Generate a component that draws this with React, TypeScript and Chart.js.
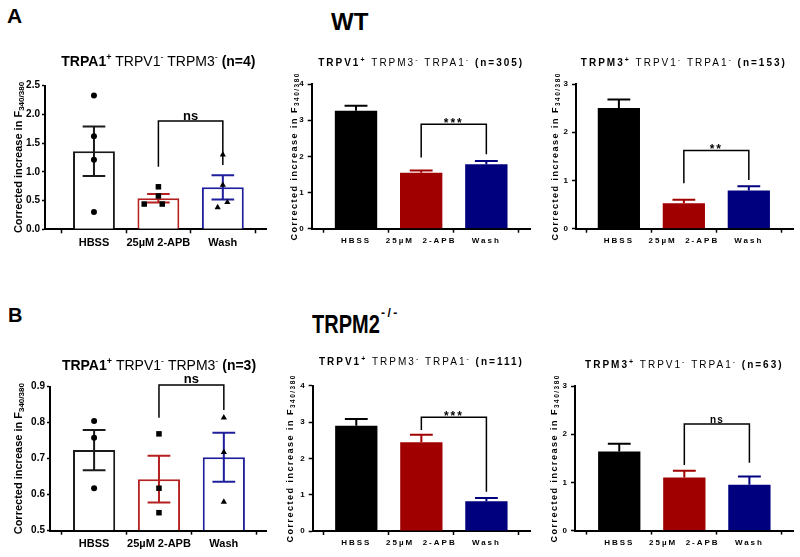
import React, { useEffect, useRef } from 'react';
import { Chart, registerables } from 'chart.js';
Chart.register(...registerables);

const FONT = '"Liberation Sans", Arial, Helvetica, sans-serif';

// ---------- data ----------
const categories = ['HBSS', '25µM 2-APB', 'Wash'];
const spacedCategories = ['HBSS', '25µM  2-APB', 'Wash'];

// A: WT, TRPA1+ (n=4)
const wtA1Means = [1.36, 0.54, 0.73];
const wtA1Sem = [0.43, 0.075, 0.21];
const wtA1HbssPoints = [2.33, 1.62, 1.21, 0.3];
const wtA1ApbPoints = [0.74, 0.58, 0.44, 0.44];
const wtA1WashPoints = [1.3, 0.77, 0.47, 0.38];
const wtA1Jitter = [[0, 0, 0, 0], [0, 0, -0.22, 0.06], [0, 0, 0.07, -0.08]];
const wtA1Bracket = [1.885, 1.09, 1.12];

// A: WT, TRPV1+ (n=305)
const wtV1Means = [3.26, 1.55, 1.78];
const wtV1Sem = [0.14, 0.06, 0.09];
const wtV1Bracket = [2.89, 1.97, 2.06];

// A: WT, TRPM3+ (n=153)
const wtM3Means = [2.5, 0.53, 0.79];
const wtM3Sem = [0.18, 0.07, 0.09];
const wtM3Bracket = [1.62, 0.94, 1.01];

// B: TRPM2-/-, TRPA1+ (n=3)
const koA1Means = [0.724, 0.643, 0.704];
const koA1Sem = [0.056, 0.065, 0.068];
const koA1HbssPoints = [0.805, 0.758, 0.618];
const koA1ApbPoints = [0.769, 0.618, 0.55];
const koA1WashPoints = [0.814, 0.718, 0.58];
const koA1Jitter = [[0, 0, 0], [0, 0, 0], [0, 0, 0]];
const koA1Bracket = [0.905, 0.814, 0.835];

// B: TRPM2-/-, TRPV1+ (n=111)
const koV1Means = [2.9, 2.44, 0.82];
const koV1Sem = [0.18, 0.21, 0.09];
const koV1Bracket = [3.13, 2.78, 1.08];

// B: TRPM2-/-, TRPM3+ (n=63)
const koM3Means = [1.64, 1.1, 0.95];
const koM3Sem = [0.16, 0.14, 0.17];
const koM3Bracket = [2.21, 1.36, 1.41];

// y axis ranges: [min, max, step, decimals]
const wtA1Axis = [0, 2.5, 0.5, 1];
const wtV1Axis = [0, 4, 1, 0];
const wtM3Axis = [0, 3, 1, 0];
const koA1Axis = [0.5, 0.9, 0.1, 1];
const koV1Axis = [0, 4, 1, 0];
const koM3Axis = [0, 3, 1, 0];

// titles: [text, kind] where b=bold, n=normal, sb=superscript bold, s=superscript
const titleA1_4 = [['TRPA1', 'b'], ['+', 'sb'], [' TRPV1', 'n'], ['-', 's'], [' TRPM3', 'n'], ['-', 's'], [' (n=4)', 'b']];
const titleV1_305 = [['TRPV1', 'b'], ['+', 'sb'], [' TRPM3', 'n'], ['-', 's'], [' TRPA1', 'n'], ['-', 's'], [' (n=305)', 'b']];
const titleM3_153 = [['TRPM3', 'b'], ['+', 'sb'], [' TRPV1', 'n'], ['-', 's'], [' TRPA1', 'n'], ['-', 's'], [' (n=153)', 'b']];
const titleA1_3 = [['TRPA1', 'b'], ['+', 'sb'], [' TRPV1', 'n'], ['-', 's'], [' TRPM3', 'n'], ['-', 's'], [' (n=3)', 'b']];
const titleV1_111 = [['TRPV1', 'b'], ['+', 'sb'], [' TRPM3', 'n'], ['-', 's'], [' TRPA1', 'n'], ['-', 's'], [' (n=111)', 'b']];
const titleM3_63 = [['TRPM3', 'b'], ['+', 'sb'], [' TRPV1', 'n'], ['-', 's'], [' TRPA1', 'n'], ['-', 's'], [' (n=63)', 'b']];
const yTitle = [['Corrected increase in F', 'b'], ['340/380', 'sub']];

const filledColors = ['#000000', '#A00000', '#00007F'];
const openColors = ['#1A1A1A', '#B52020', '#1F1F9C'];
const pointShapes = ['circle', 'rect', 'triangle'];
const pointRadii = [3, 3.9, 3.6];

// ---------- styles ----------
const openStyle = { tick: 10, tickLen: 3, xlab: 11, title: 14, sup: 9, ytitle: 11, sub: 8, spacing: 0, ytSpacing: 0, titleSpacing: 0, ns: 13, nsSpacing: 0, stars: 12, starSpacing: 1 };
const spacedStyle = { tick: 8, tickLen: 4, xlab: 8, title: 10, sup: 7, ytitle: 9, sub: 6.5, spacing: 2, ytSpacing: 1.5, titleSpacing: 2, ns: 10, nsSpacing: 1, stars: 12, starSpacing: 2 };

type Panel = {
  box: number[]; // canvas left, top, width, height (page)
  area: number[]; // chart area left, top, right, bottom (page)
  xRange: number[];
  axis: number[];
  means: number[];
  sem: number[];
  points?: number[][];
  jitter?: number[][];
  open: boolean;
  title: string[][];
  titleGap: number;
  yTitleX: number;
  bracket: number[];
  label: string;
  labels: string[];
};

const panels: Panel[] = [
  { box: [0, 40, 270, 218], area: [45, 85.7, 266, 229.3], xRange: [-0.76, 2.67], axis: wtA1Axis, means: wtA1Means, sem: wtA1Sem,
    points: [wtA1HbssPoints, wtA1ApbPoints, wtA1WashPoints], jitter: wtA1Jitter, open: true, title: titleA1_4, titleGap: 19.5, yTitleX: 21.5,
    bracket: wtA1Bracket, label: 'ns', labels: categories },
  { box: [270, 40, 270, 218], area: [311.7, 84, 530, 228.7], xRange: [-0.68, 2.67], axis: wtV1Axis, means: wtV1Means, sem: wtV1Sem,
    open: false, title: titleV1_305, titleGap: 18, yTitleX: 297, bracket: wtV1Bracket, label: '***', labels: spacedCategories },
  { box: [540, 40, 260, 218], area: [576, 84, 793, 228.7], xRange: [-0.66, 2.68], axis: wtM3Axis, means: wtM3Means, sem: wtM3Sem,
    open: false, title: titleM3_153, titleGap: 18, yTitleX: 558, bracket: wtM3Bracket, label: '**', labels: spacedCategories },
  { box: [0, 340, 270, 217], area: [50, 386.7, 266, 530.7], xRange: [-0.68, 2.65], axis: koA1Axis, means: koA1Means, sem: koA1Sem,
    points: [koA1HbssPoints, koA1ApbPoints, koA1WashPoints], jitter: koA1Jitter, open: true, title: titleA1_3, titleGap: 16.5, yTitleX: 21.5,
    bracket: koA1Bracket, label: 'ns', labels: categories },
  { box: [270, 340, 270, 217], area: [312.7, 385.7, 530, 531], xRange: [-0.67, 2.67], axis: koV1Axis, means: koV1Means, sem: koV1Sem,
    open: false, title: titleV1_111, titleGap: 20.5, yTitleX: 293, bracket: koV1Bracket, label: '***', labels: spacedCategories },
  { box: [540, 340, 260, 217], area: [575, 386, 793, 530.6], xRange: [-0.68, 2.67], axis: koM3Axis, means: koM3Means, sem: koM3Sem,
    open: false, title: titleM3_63, titleGap: 18, yTitleX: 557, bracket: koM3Bracket, label: 'ns', labels: spacedCategories },
];

function fontFor(kind: string, st: any, base: 'title' | 'ytitle') {
  const size = base === 'title' ? st.title : st.ytitle;
  if (kind === 'b') return `bold ${size}px ${FONT}`;
  if (kind === 'n') return `normal ${size}px ${FONT}`;
  if (kind === 'sb') return `bold ${st.sup}px ${FONT}`;
  if (kind === 's') return `normal ${st.sup}px ${FONT}`;
  if (kind === 'sub') return `bold ${st.sub}px ${FONT}`;
  return `bold ${size}px ${FONT}`;
}

function drawRich(ctx: any, segs: string[][], st: any, base: 'title' | 'ytitle', x: number, y: number, rot: number, spacing: number) {
  const size = base === 'title' ? st.title : st.ytitle;
  ctx.save();
  ctx.translate(x, y);
  ctx.rotate(rot);
  ctx.letterSpacing = spacing + 'px';
  ctx.textAlign = 'left';
  ctx.textBaseline = 'alphabetic';
  ctx.fillStyle = '#000';
  const widths = segs.map(([t, k]) => {
    ctx.font = fontFor(k, st, base);
    return ctx.measureText(t).width;
  });
  const total = widths.reduce((a, b) => a + b, 0);
  let cx = -total / 2;
  segs.forEach(([t, k], i) => {
    ctx.font = fontFor(k, st, base);
    let dy = 0;
    if (k === 'sb' || k === 's') dy = -size * 0.42;
    if (k === 'sub') dy = size * 0.2;
    ctx.fillText(t, cx, dy);
    cx += widths[i];
  });
  ctx.restore();
}

function makePlugin(p: Panel) {
  const st = p.open ? openStyle : spacedStyle;
  const colors = p.open ? openColors : filledColors;
  return {
    id: 'figureExtras',
    beforeDraw(chart: any) {
      chart.ctx.letterSpacing = st.spacing + 'px';
    },
    afterDatasetDraw(chart: any, args: any) {
      if (args.index !== 0) return;
      const ctx = chart.ctx;
      const ys = chart.scales.y;
      const meta = chart.getDatasetMeta(0);
      ctx.save();
      ctx.lineWidth = 2;
      ctx.lineCap = 'butt';
      meta.data.forEach((bar: any, i: number) => {
        const x = bar.x;
        const half = bar.width * 0.27;
        const yHi = ys.getPixelForValue(p.means[i] + p.sem[i]);
        const yLo = p.open ? ys.getPixelForValue(p.means[i] - p.sem[i]) : ys.getPixelForValue(p.means[i]);
        ctx.strokeStyle = colors[i];
        ctx.beginPath();
        ctx.moveTo(x, yLo);
        ctx.lineTo(x, yHi);
        ctx.moveTo(x - half, yHi);
        ctx.lineTo(x + half, yHi);
        if (p.open) {
          ctx.moveTo(x - half, yLo);
          ctx.lineTo(x + half, yLo);
        }
        ctx.stroke();
      });
      ctx.restore();
    },
    afterDraw(chart: any) {
      const ctx = chart.ctx;
      const xs = chart.scales.x;
      const ys = chart.scales.y;
      // significance bracket between category 1 and 2
      const [top, lEnd, rEnd] = p.bracket;
      const x1 = xs.getPixelForValue(1);
      const x2 = xs.getPixelForValue(2);
      const yT = ys.getPixelForValue(top);
      ctx.save();
      ctx.strokeStyle = '#000';
      ctx.lineWidth = 1.5;
      ctx.beginPath();
      ctx.moveTo(x1, ys.getPixelForValue(lEnd));
      ctx.lineTo(x1, yT);
      ctx.lineTo(x2, yT);
      ctx.lineTo(x2, ys.getPixelForValue(rEnd));
      ctx.stroke();
      const isStars = p.label.startsWith('*');
      const fs = isStars ? st.stars : st.ns;
      ctx.font = `bold ${fs}px ${FONT}`;
      ctx.letterSpacing = (isStars ? st.starSpacing : st.nsSpacing) + 'px';
      ctx.fillStyle = '#000';
      ctx.textAlign = 'center';
      ctx.textBaseline = 'alphabetic';
      const m = ctx.measureText(p.label);
      const desc = m.actualBoundingBoxDescent || 0;
      ctx.fillText(p.label, (x1 + x2) / 2, yT - 1.5 - desc);
      ctx.restore();
      // panel title
      const area = chart.chartArea;
      drawRich(ctx, p.title, st, 'title', xs.getPixelForValue(1), area.top - p.titleGap, 0, st.titleSpacing);
      // y axis title
      drawRich(ctx, yTitle, st, 'ytitle', p.yTitleX - p.box[0], (area.top + area.bottom) / 2, -Math.PI / 2, st.ytSpacing);
      ctx.letterSpacing = '0px';
    },
  };
}

function buildConfig(p: Panel): any {
  const st = p.open ? openStyle : spacedStyle;
  const colors = p.open ? openColors : filledColors;
  const [bl, bt, bw, bh] = p.box;
  const [al, at, ar, ab] = p.area;
  const [yMin, yMax, yStep, yDec] = p.axis;
  const datasets: any[] = [
    {
      type: 'bar',
      data: p.means.map((m, i) => ({ x: i, y: m })),
      backgroundColor: p.open ? '#FFFFFF' : colors,
      borderColor: colors,
      borderWidth: p.open ? 2 : 0,
      barPercentage: 0.65,
      categoryPercentage: 1,
      base: yMin,
      order: 2,
    },
  ];
  if (p.points) {
    p.points.forEach((vals, i) => {
      datasets.push({
        type: 'scatter',
        data: vals.map((v, j) => ({ x: i + (p.jitter ? p.jitter[i][j] : 0), y: v })),
        pointStyle: pointShapes[i],
        pointRadius: pointRadii[i],
        backgroundColor: '#000',
        borderColor: '#000',
        borderWidth: 0,
        order: 1,
        clip: false,
      });
    });
  }
  return {
    type: 'bar',
    data: { datasets },
    options: {
      responsive: false,
      animation: false,
      events: [],
      layout: { padding: { left: 0, top: at - bt, right: bl + bw - ar, bottom: 0 } },
      plugins: { legend: { display: false }, tooltip: { enabled: false }, title: { display: false } },
      scales: {
        x: {
          type: 'linear',
          min: p.xRange[0],
          max: p.xRange[1],
          offset: false,
          afterBuildTicks: (s: any) => {
            s.ticks = p.labels.map((_, i) => ({ value: i }));
          },
          afterFit: (s: any) => {
            s.height = bt + bh - ab;
          },
          grid: { display: true, drawOnChartArea: false, drawTicks: true, tickLength: 4, tickColor: '#000', tickWidth: 1.5 },
          border: { display: true, color: '#000', width: 2 },
          ticks: {
            color: '#000',
            font: { family: FONT, size: st.xlab, weight: 'bold' },
            padding: 3,
            maxRotation: 0,
            autoSkip: false,
            callback: (v: any) => p.labels[Math.round(v)] ?? '',
          },
        },
        y: {
          type: 'linear',
          min: yMin,
          max: yMax,
          afterFit: (s: any) => {
            s.width = al - bl;
          },
          grid: { display: true, drawOnChartArea: false, drawTicks: true, tickLength: st.tickLen, tickColor: '#000', tickWidth: 1.5 },
          border: { display: true, color: '#000', width: 2 },
          ticks: {
            stepSize: yStep,
            color: '#000',
            font: { family: FONT, size: st.tick, weight: 'bold' },
            padding: 2,
            callback: (v: any) => Number(v).toFixed(yDec),
          },
        },
      },
    },
    plugins: [makePlugin(p)],
  };
}

function ChartPanel({ p }: { p: Panel }) {
  const ref = useRef<HTMLCanvasElement>(null);
  useEffect(() => {
    const chart = new Chart(ref.current as HTMLCanvasElement, buildConfig(p));
    return () => chart.destroy();
  }, [p]);
  const [l, t, w, h] = p.box;
  return (
    <canvas
      ref={ref}
      width={w}
      height={h}
      style={{ position: 'absolute', left: l, top: t, width: w, height: h }}
    />
  );
}

const headStyle: React.CSSProperties = {
  position: 'absolute',
  fontFamily: FONT,
  fontWeight: 'bold',
  lineHeight: 1,
  color: '#000',
  whiteSpace: 'nowrap',
  margin: 0,
};

export default function App() {
  return (
    <div style={{ position: 'absolute', left: 0, top: 0, width: 800, height: 557, background: '#fff', overflow: 'hidden' }}>
      <div style={{ ...headStyle, left: 7, top: 5.3, fontSize: 21 }}>A</div>
      <div style={{ ...headStyle, left: 331, top: 9.9, fontSize: 24 }}>WT</div>
      <div style={{ ...headStyle, left: 8, top: 305.4, fontSize: 20 }}>B</div>
      <div style={{ ...headStyle, left: 312, top: 311.7, fontSize: 25, transform: 'scaleX(0.8)', transformOrigin: 'left top' }}>TRPM2</div>
      <div style={{ ...headStyle, left: 381, top: 306.8, fontSize: 12, letterSpacing: 2.5 }}>-/-</div>
      {panels.map((p, i) => (
        <ChartPanel key={i} p={p} />
      ))}
    </div>
  );
}
